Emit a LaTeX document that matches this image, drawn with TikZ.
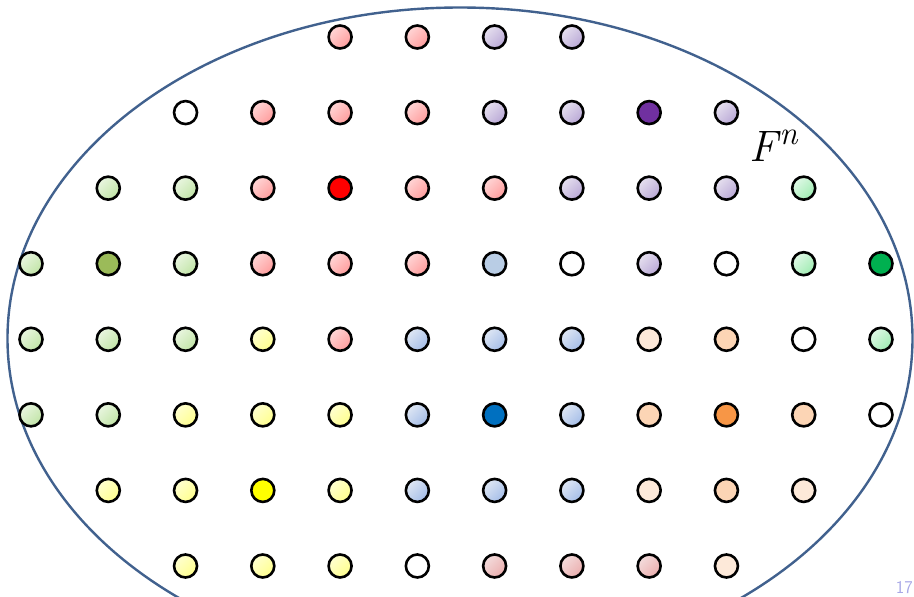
\documentclass[tikz,border=0pt]{standalone}
\usepackage{fontspec}
\begin{document}
\definecolor{ellblue}{HTML}{41618E}
\definecolor{pageno}{HTML}{A8A8E6}
\definecolor{lvA}{HTML}{E6E0EF}
\definecolor{lvB}{HTML}{B9A8D6}
\definecolor{blA}{HTML}{DFE7F4}
\definecolor{blB}{HTML}{A4BDE8}
\definecolor{pkA}{HTML}{FFD6D6}
\definecolor{pkB}{HTML}{FF9C9C}
\tikzset{
  ell/.style={draw=ellblue, line width=2.4pt},
  dot/.style={circle, draw=black, line width=2.6pt, minimum size=23pt, inner sep=0pt},
  grad/.style 2 args={top color=#1, bottom color=#2, shading angle=45},
  pk/.style={grad={pkA}{pkB}},
  lv/.style={grad={lvA}{lvB}},
  gr/.style={grad={green!40!olive!12!white}{green!40!olive!35!white}},
  mt/.style={grad={green!60!teal!12!white}{green!60!teal!38!white}},
  bl/.style={grad={blA}{blB}},
  sb/.style={fill={rgb,255:red,185;green,205;blue,229}},
  yl/.style={grad={yellow!18!white}{yellow!45!white}},
  pc/.style={fill={rgb,255:red,252;green,213;blue,181}},
  lp/.style={fill={rgb,255:red,253;green,233;blue,217}},
  dp/.style={grad={red!50!gray!18!white}{red!60!gray!40!white}},
  wt/.style={fill=white},
  DP/.style={fill={rgb,255:red,112;green,48;blue,160}},
  RD/.style={fill={rgb,255:red,255;green,0;blue,0}},
  OL/.style={fill={rgb,255:red,155;green,187;blue,89}},
  DG/.style={fill={rgb,255:red,0;green,176;blue,80}},
  DB/.style={fill={rgb,255:red,0;green,112;blue,192}},
  OR/.style={fill={rgb,255:red,247;green,150;blue,70}},
  YE/.style={fill={rgb,255:red,255;green,255;blue,0}},
}
\newcommand\dt[3]{\node[dot,#3] (n#2#1) at ({31+77.27*#1},{37+75.57*#2}) {};}
\begin{tikzpicture}[x=1pt,y=-1pt]
\useasboundingbox (0,0) rectangle (914,597);
\draw[ell] (460,338.5) ellipse [x radius=452.5, y radius=331];
% row 0
\dt{4}{0}{pk}\dt{5}{0}{pk}\dt{6}{0}{lv}\dt{7}{0}{lv}
% row 1
\dt{2}{1}{wt}\dt{3}{1}{pk}\dt{4}{1}{pk}\dt{5}{1}{pk}\dt{6}{1}{lv}\dt{7}{1}{lv}\dt{8}{1}{DP}\dt{9}{1}{lv}
% row 2
\dt{1}{2}{gr}\dt{2}{2}{gr}\dt{3}{2}{pk}\dt{4}{2}{RD}\dt{5}{2}{pk}\dt{6}{2}{pk}\dt{7}{2}{lv}\dt{8}{2}{lv}\dt{9}{2}{lv}\dt{10}{2}{mt}
% row 3
\dt{0}{3}{gr}\dt{1}{3}{OL}\dt{2}{3}{gr}\dt{3}{3}{pk}\dt{4}{3}{pk}\dt{5}{3}{pk}\dt{6}{3}{sb}\dt{7}{3}{wt}\dt{8}{3}{lv}\dt{9}{3}{wt}\dt{10}{3}{mt}\dt{11}{3}{DG}
% row 4
\dt{0}{4}{gr}\dt{1}{4}{gr}\dt{2}{4}{gr}\dt{3}{4}{yl}\dt{4}{4}{pk}\dt{5}{4}{bl}\dt{6}{4}{bl}\dt{7}{4}{bl}\dt{8}{4}{lp}\dt{9}{4}{pc}\dt{10}{4}{wt}\dt{11}{4}{mt}
% row 5
\dt{0}{5}{gr}\dt{1}{5}{gr}\dt{2}{5}{yl}\dt{3}{5}{yl}\dt{4}{5}{yl}\dt{5}{5}{bl}\dt{6}{5}{DB}\dt{7}{5}{bl}\dt{8}{5}{pc}\dt{9}{5}{OR}\dt{10}{5}{pc}\dt{11}{5}{wt}
% row 6
\dt{1}{6}{yl}\dt{2}{6}{yl}\dt{3}{6}{YE}\dt{4}{6}{yl}\dt{5}{6}{bl}\dt{6}{6}{bl}\dt{7}{6}{bl}\dt{8}{6}{lp}\dt{9}{6}{pc}\dt{10}{6}{lp}
% row 7
\dt{2}{7}{yl}\dt{3}{7}{yl}\dt{4}{7}{yl}\dt{5}{7}{wt}\dt{6}{7}{dp}\dt{7}{7}{dp}\dt{8}{7}{dp}\dt{9}{7}{lp}
\node[inner sep=0pt, anchor=base west] (fn) at (749,161) {\fontsize{44}{46}\selectfont\itshape F\kern2pt\raisebox{0.38em}{\fontsize{33}{35}\selectfont n}};
\node[text=pageno, inner sep=0pt, anchor=base east, font=\sffamily\fontsize{18}{20}\selectfont] (pg) at (913,593) {17};
\end{tikzpicture}
\end{document}
